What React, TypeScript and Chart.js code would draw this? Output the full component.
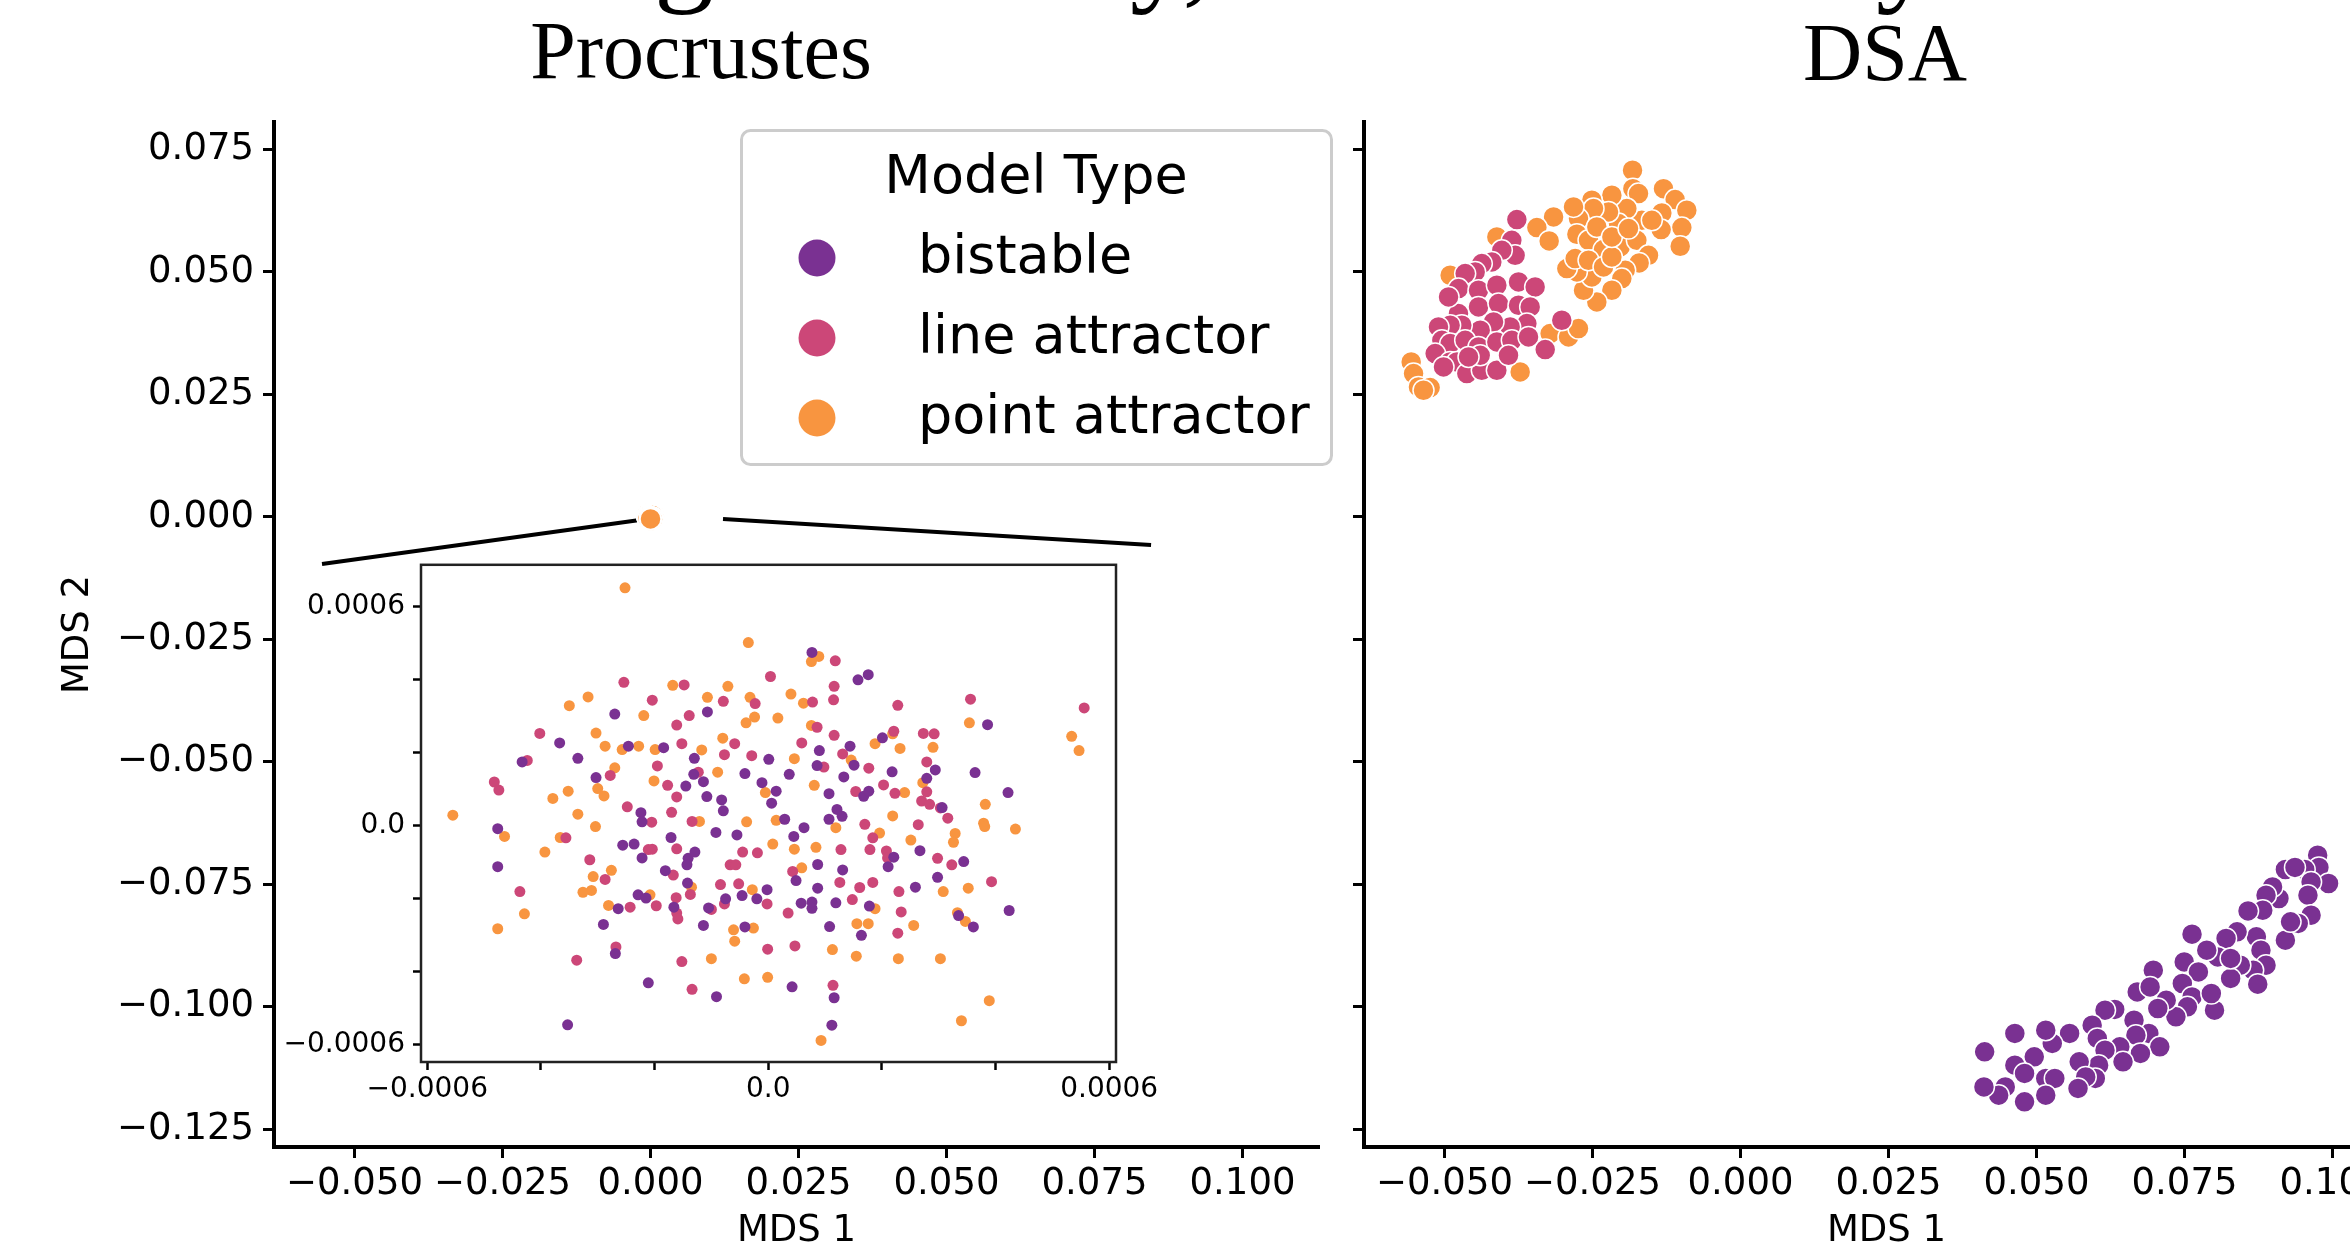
import React, { useEffect, useRef } from "react";
import { Chart, registerables } from "chart.js";

Chart.register(...registerables);

// ---------------- data ----------------
const MODEL_TYPES = ["bistable", "line attractor", "point attractor"];
const MODEL_COLORS = ["#7a3192", "#cc4778", "#f89540"];

// Procrustes MDS embedding (tiny spread, shown at ~0 in the main panel and in the zoom inset)
const PROC_BISTABLE: number[][] = [
  [-2.70e-4, 3.06e-4], [-1.07e-4, 3.12e-4], [-3.67e-4, 2.27e-4], [-3.35e-4, 1.85e-4], [-4.33e-4, 1.75e-4],
  [-2.46e-4, 2.18e-4], [-1.84e-4, 2.14e-4], [-1.30e-4, 1.85e-4], [-3.03e-4, 1.32e-4], [-1.45e-4, 1.09e-4],
  [-1.31e-4, 1.41e-4], [-1.14e-4, 1.21e-4], [-1.08e-4, 0.80e-4], [-0.82e-4, 0.71e-4], [-0.79e-4, 0.41e-4],
  [-0.41e-4, 1.43e-4], [-0.11e-4, 1.18e-4], [-2.24e-4, 0.36e-4], [-2.22e-4, 0.11e-4], [-4.76e-4, -0.08e-4],
  [-1.71e-4, -0.32e-4], [-0.92e-4, -0.18e-4], [-0.55e-4, -0.25e-4], [-2.56e-4, -0.53e-4], [-2.36e-4, -0.50e-4],
  [-2.22e-4, -0.88e-4], [-1.41e-4, -0.89e-4], [-1.29e-4, -0.72e-4], [-1.43e-4, -1.07e-4], [-4.76e-4, -1.12e-4],
  [-1.81e-4, -1.23e-4], [-1.42e-4, -1.57e-4], [-2.29e-4, -1.89e-4], [-2.15e-4, -1.98e-4], [-2.64e-4, -2.27e-4],
  [-1.66e-4, -2.23e-4], [-1.05e-4, -2.25e-4], [-0.75e-4, -2.00e-4], [-0.46e-4, -1.91e-4], [-0.20e-4, -2.00e-4],
  [-2.90e-4, -2.70e-4], [-1.14e-4, -2.73e-4], [-0.41e-4, -2.77e-4], [-2.69e-4, -3.50e-4], [-2.11e-4, -4.30e-4],
  [-0.91e-4, -4.68e-4], [-3.53e-4, -5.45e-4],
  [0.77e-4, 4.75e-4], [1.58e-4, 4.00e-4], [1.76e-4, 4.14e-4], [3.86e-4, 2.77e-4], [2.01e-4, 2.41e-4],
  [1.44e-4, 2.18e-4], [0.90e-4, 2.06e-4], [0.86e-4, 1.65e-4], [1.51e-4, 1.66e-4], [0.01e-4, 1.82e-4],
  [0.37e-4, 1.41e-4], [1.33e-4, 1.34e-4], [2.18e-4, 1.48e-4], [2.94e-4, 1.53e-4], [3.64e-4, 1.46e-4],
  [2.79e-4, 1.30e-4], [0.14e-4, 0.95e-4], [0.06e-4, 0.62e-4], [1.07e-4, 0.88e-4], [1.68e-4, 0.81e-4],
  [1.77e-4, 0.95e-4], [4.22e-4, 0.91e-4], [3.06e-4, 0.50e-4], [1.21e-4, 0.45e-4], [1.30e-4, 0.26e-4],
  [1.07e-4, 0.18e-4], [0.29e-4, 0.18e-4], [0.63e-4, -0.05e-4], [0.45e-4, -0.29e-4], [2.67e-4, -0.68e-4],
  [2.21e-4, -0.86e-4], [2.11e-4, -1.12e-4], [0.87e-4, -1.06e-4], [1.31e-4, -1.21e-4], [3.44e-4, -0.98e-4],
  [2.98e-4, -1.41e-4], [0.49e-4, -1.50e-4], [-0.02e-4, -1.75e-4], [0.87e-4, -1.71e-4], [2.59e-4, -1.68e-4],
  [0.58e-4, -2.12e-4], [0.77e-4, -2.09e-4], [0.77e-4, -2.26e-4], [1.19e-4, -2.11e-4], [1.78e-4, -2.20e-4],
  [4.24e-4, -2.32e-4], [3.35e-4, -2.46e-4], [3.61e-4, -2.77e-4], [1.08e-4, -2.76e-4], [1.64e-4, -3.00e-4],
  [0.42e-4, -4.41e-4], [1.16e-4, -4.71e-4], [1.12e-4, -5.46e-4],
];

const PROC_LINE: number[][] = [
  [-2.54e-4, 3.93e-4], [-1.48e-4, 3.86e-4], [-2.04e-4, 3.44e-4], [-0.23e-4, 3.35e-4], [-0.79e-4, 3.41e-4],
  [-1.39e-4, 3.02e-4], [-1.61e-4, 2.76e-4], [-4.02e-4, 2.53e-4], [-1.52e-4, 2.25e-4], [-0.59e-4, 2.25e-4],
  [-0.77e-4, 1.95e-4], [-0.29e-4, 1.92e-4], [-1.95e-4, 1.64e-4], [-2.78e-4, 1.38e-4], [-1.23e-4, 1.47e-4],
  [-4.24e-4, 1.79e-4], [-4.82e-4, 1.20e-4], [-4.74e-4, 0.98e-4], [-1.77e-4, 1.11e-4], [-1.61e-4, 0.79e-4],
  [-2.48e-4, 0.52e-4], [-1.70e-4, 0.37e-4], [-2.05e-4, 0.10e-4], [-1.34e-4, 0.12e-4], [-3.56e-4, -0.33e-4],
  [-2.11e-4, -0.65e-4], [-2.04e-4, -0.64e-4], [-1.61e-4, -0.63e-4], [-0.45e-4, -0.72e-4], [-0.19e-4, -0.74e-4],
  [-3.14e-4, -0.93e-4], [-2.87e-4, -1.47e-4], [-1.67e-4, -1.35e-4], [-0.67e-4, -1.07e-4], [-0.57e-4, -1.07e-4],
  [-0.84e-4, -1.61e-4], [-0.52e-4, -1.59e-4], [-1.37e-4, -1.88e-4], [-1.62e-4, -1.97e-4], [-2.43e-4, -2.23e-4],
  [-1.97e-4, -2.19e-4], [-1.61e-4, -2.39e-4], [-1.59e-4, -2.55e-4], [-1.00e-4, -2.29e-4], [-0.77e-4, -2.14e-4],
  [-4.37e-4, -1.80e-4], [-2.68e-4, -3.32e-4], [-3.37e-4, -3.68e-4], [-1.52e-4, -3.72e-4], [-1.34e-4, -4.48e-4],
  [0.04e-4, 4.09e-4], [1.18e-4, 4.52e-4], [1.16e-4, 3.82e-4], [1.15e-4, 3.45e-4], [0.78e-4, 3.39e-4],
  [2.28e-4, 3.30e-4], [0.86e-4, 2.70e-4], [1.16e-4, 2.48e-4], [0.59e-4, 2.27e-4], [1.31e-4, 1.97e-4],
  [0.98e-4, 1.61e-4], [1.77e-4, 1.58e-4], [2.21e-4, 2.59e-4], [2.73e-4, 2.53e-4], [2.92e-4, 2.52e-4],
  [2.79e-4, 1.75e-4], [2.03e-4, 1.12e-4], [1.54e-4, 0.94e-4], [2.23e-4, 0.89e-4], [2.79e-4, 0.93e-4],
  [2.70e-4, 0.68e-4], [2.84e-4, 0.59e-4], [3.03e-4, 0.49e-4], [3.16e-4, 0.21e-4], [3.56e-4, 3.47e-4],
  [5.56e-4, 3.23e-4], [1.70e-4, 0.04e-4], [1.84e-4, -0.33e-4], [2.64e-4, 0.03e-4], [1.28e-4, -0.65e-4],
  [1.79e-4, -0.65e-4], [2.08e-4, -0.69e-4], [2.10e-4, -0.88e-4], [2.98e-4, -0.89e-4], [3.23e-4, -1.07e-4],
  [0.43e-4, -1.25e-4], [1.26e-4, -1.55e-4], [1.61e-4, -1.69e-4], [1.84e-4, -1.55e-4], [3.93e-4, -1.53e-4],
  [2.30e-4, -1.80e-4], [1.48e-4, -2.02e-4], [-0.02e-4, -2.14e-4], [0.35e-4, -2.39e-4], [2.34e-4, -2.36e-4],
  [2.28e-4, -2.94e-4], [-0.01e-4, -3.38e-4], [0.47e-4, -3.29e-4], [1.14e-4, -4.37e-4],
];

const PROC_POINT: number[][] = [
  [-2.52e-4, 6.52e-4], [-0.35e-4, 5.02e-4], [-1.68e-4, 3.85e-4], [-3.50e-4, 3.29e-4], [-3.17e-4, 3.53e-4],
  [-2.19e-4, 3.02e-4], [-1.07e-4, 3.52e-4], [-0.71e-4, 3.82e-4], [-0.32e-4, 3.52e-4], [-0.39e-4, 2.82e-4],
  [-0.24e-4, 2.98e-4], [-3.03e-4, 2.54e-4], [-2.87e-4, 2.18e-4], [-2.57e-4, 2.09e-4], [-2.28e-4, 2.18e-4],
  [-1.99e-4, 2.09e-4], [-1.17e-4, 2.08e-4], [-0.80e-4, 2.40e-4], [-2.70e-4, 1.59e-4], [-2.01e-4, 1.23e-4],
  [-0.89e-4, 1.47e-4], [-3.79e-4, 0.75e-4], [-3.52e-4, 0.95e-4], [-3.00e-4, 1.02e-4], [-2.89e-4, 0.82e-4],
  [-5.55e-4, 0.29e-4], [-3.35e-4, 0.32e-4], [-3.04e-4, -0.02e-4], [-1.21e-4, 0.12e-4], [-0.38e-4, 0.11e-4],
  [-4.64e-4, -0.29e-4], [-3.66e-4, -0.32e-4], [-3.93e-4, -0.72e-4], [-2.76e-4, -1.22e-4], [-3.08e-4, -1.39e-4],
  [-3.26e-4, -1.82e-4], [-3.11e-4, -1.77e-4], [-2.81e-4, -2.18e-4], [-2.08e-4, -1.89e-4], [-1.35e-4, -1.68e-4],
  [-0.28e-4, -1.75e-4], [-0.26e-4, -2.80e-4], [-0.61e-4, -2.85e-4], [-0.59e-4, -3.16e-4], [-4.76e-4, -2.82e-4],
  [-4.29e-4, -2.41e-4], [-1.00e-4, -3.64e-4], [-0.42e-4, -4.19e-4],
  [0.89e-4, 4.64e-4], [0.76e-4, 4.50e-4], [0.40e-4, 3.61e-4], [0.62e-4, 3.36e-4], [0.17e-4, 2.95e-4],
  [0.76e-4, 2.75e-4], [0.46e-4, 1.84e-4], [1.46e-4, 1.80e-4], [1.88e-4, 2.25e-4], [2.19e-4, 2.52e-4],
  [2.32e-4, 2.12e-4], [2.90e-4, 2.15e-4], [0.81e-4, 1.11e-4], [-0.05e-4, 0.91e-4], [2.40e-4, 0.91e-4],
  [2.72e-4, 1.18e-4], [3.82e-4, 0.59e-4], [2.19e-4, 0.27e-4], [0.14e-4, 0.15e-4], [1.19e-4, -0.05e-4],
  [1.96e-4, -0.20e-4], [2.51e-4, -0.39e-4], [3.29e-4, -0.21e-4], [3.26e-4, -0.45e-4], [3.79e-4, 0.07e-4],
  [3.81e-4, -0.02e-4], [4.35e-4, -0.09e-4], [5.34e-4, 2.45e-4], [5.47e-4, 2.06e-4], [3.54e-4, 2.82e-4],
  [0.08e-4, -0.50e-4], [0.46e-4, -0.64e-4], [0.84e-4, -0.59e-4], [0.59e-4, -1.15e-4], [3.08e-4, -1.80e-4],
  [3.52e-4, -1.71e-4], [1.88e-4, -2.27e-4], [1.56e-4, -2.68e-4], [1.76e-4, -2.68e-4], [2.56e-4, -2.73e-4],
  [3.33e-4, -2.38e-4], [3.47e-4, -2.62e-4], [1.13e-4, -3.39e-4], [1.55e-4, -3.57e-4], [2.29e-4, -3.64e-4],
  [3.03e-4, -3.64e-4], [3.89e-4, -4.79e-4], [3.40e-4, -5.34e-4], [0.93e-4, -5.88e-4], [-0.01e-4, -4.15e-4],
];

// DSA MDS embedding
const DSA_BISTABLE: number[][] = [
  [0.09749, -0.06904], [0.0977, -0.07155], [0.09933, -0.07482], [0.0953, -0.07196], [0.09204, -0.07196],
  [0.09366, -0.07155], [0.09638, -0.07449], [0.09585, -0.0772], [0.09638, -0.08129], [0.09421, -0.08298],
  [0.09204, -0.08639], [0.09291, -0.08265], [0.09095, -0.07788], [0.08987, -0.07551], [0.08877, -0.0772],
  [0.08822, -0.08027], [0.08573, -0.08041], [0.08714, -0.08571], [0.08791, -0.08843], [0.08877, -0.09149],
  [0.0866, -0.09251], [0.08737, -0.09537], [0.08443, -0.09149], [0.08279, -0.0942], [0.08388, -0.08469],
  [0.08202, -0.08604], [0.08061, -0.0898], [0.07876, -0.08843], [0.07627, -0.08516], [0.07495, -0.09082],
  [0.07735, -0.09286], [0.07463, -0.09523], [0.07627, -0.09796], [0.07549, -0.1], [0.07355, -0.10204],
  [0.07191, -0.09863], [0.06973, -0.09251], [0.06701, -0.09694], [0.06919, -0.09592], [0.07049, -0.10033],
  [0.06897, -0.10543], [0.07083, -0.10816], [0.06647, -0.10271], [0.06679, -0.10578], [0.06755, -0.10951],
  [0.06407, -0.10816], [0.06461, -0.11122], [0.06321, -0.10053], [0.06157, -0.10067], [0.0594, -0.10373],
  [0.06027, -0.10645], [0.06157, -0.10884], [0.06049, -0.1119], [0.05993, -0.11461], [0.05721, -0.11122],
  [0.05831, -0.11429], [0.05701, -0.11665], [0.05559, -0.10543], [0.05266, -0.10747], [0.05156, -0.10476],
  [0.04962, -0.1102], [0.04634, -0.10543], [0.04634, -0.1119], [0.04798, -0.11359], [0.05156, -0.11461],
  [0.05309, -0.11461], [0.05156, -0.11802], [0.04798, -0.11939], [0.04472, -0.11633], [0.04361, -0.11802],
  [0.04112, -0.11633], [0.04124, -0.10918], [0.08007, -0.10067], [0.07953, -0.09727], [0.08279, -0.09012],
];

const DSA_LINE: number[][] = [
  [-0.03778, 0.06068], [-0.03863, 0.05646], [-0.03807, 0.0534], [-0.04032, 0.05442], [-0.04201, 0.05204],
  [-0.0437, 0.0517], [-0.04482, 0.05], [-0.04651, 0.04966], [-0.04764, 0.0466], [-0.04426, 0.04626],
  [-0.04116, 0.04728], [-0.0375, 0.04796], [-0.03469, 0.04694], [-0.04426, 0.04286], [-0.04764, 0.0415],
  [-0.04932, 0.0449], [-0.04088, 0.04354], [-0.0375, 0.0432], [-0.03553, 0.04286], [-0.03609, 0.03946],
  [-0.03891, 0.03878], [-0.04172, 0.0398], [-0.04397, 0.0381], [-0.04708, 0.03912], [-0.04905, 0.03912],
  [-0.05102, 0.03878], [-0.05045, 0.03605], [-0.04905, 0.03537], [-0.04651, 0.03605], [-0.04426, 0.03469],
  [-0.04116, 0.03571], [-0.03863, 0.03605], [-0.03581, 0.03673], [-0.03299, 0.03415], [-0.03019, 0.04014],
  [-0.05158, 0.03333], [-0.04905, 0.03163], [-0.04791, 0.03163], [-0.04623, 0.02925], [-0.0437, 0.02993],
  [-0.04116, 0.02993], [-0.04397, 0.03299], [-0.03919, 0.03299], [-0.04594, 0.03265], [-0.05017, 0.03061],
];

const DSA_POINT: number[][] = [
  [-0.01824, 0.07075], [-0.01818, 0.067], [-0.01301, 0.067], [-0.01104, 0.06476], [-0.00907, 0.06259],
  [-0.00991, 0.05905], [-0.01019, 0.05524], [-0.01329, 0.06204], [-0.01341, 0.05864], [-0.01723, 0.06599],
  [-0.01667, 0.06054], [-0.0192, 0.06293], [-0.02061, 0.05986], [-0.02173, 0.06565], [-0.0223, 0.06224],
  [-0.02511, 0.06463], [-0.02483, 0.06293], [-0.02737, 0.06088], [-0.02821, 0.06327], [-0.03158, 0.06122],
  [-0.0344, 0.05905], [-0.03232, 0.05633], [-0.02764, 0.05769], [-0.02567, 0.05646], [-0.02314, 0.05456],
  [-0.02033, 0.0551], [-0.01751, 0.05646], [-0.01554, 0.0534], [-0.01712, 0.05184], [-0.01948, 0.05034],
  [-0.02005, 0.04864], [-0.02173, 0.04626], [-0.02427, 0.04388], [-0.02652, 0.04626], [-0.02511, 0.04898],
  [-0.02764, 0.05], [-0.02934, 0.05068], [-0.02793, 0.05272], [-0.02567, 0.05238], [-0.02314, 0.05102],
  [-0.02173, 0.05306], [-0.02427, 0.05918], [-0.02173, 0.05714], [-0.01892, 0.05884], [-0.01498, 0.06054],
  [-0.04116, 0.05714], [-0.04905, 0.04932], [-0.03216, 0.03741], [-0.02905, 0.03673], [-0.02737, 0.03844],
  [-0.03722, 0.02959], [-0.05563, 0.03163], [-0.05523, 0.02925], [-0.0544, 0.02653], [-0.05243, 0.02639],
  [-0.05355, 0.02585],
];

// axes
const MAIN_X_RANGE = [-0.0636, 0.11292];
const MAIN_Y_RANGE = [-0.1286, 0.0806];
const MAIN_X_TICKS = [-0.05, -0.025, 0, 0.025, 0.05, 0.075, 0.1];
const MAIN_X_LABELS = ["−0.050", "−0.025", "0.000", "0.025", "0.050", "0.075", "0.100"];
const MAIN_Y_TICKS = [-0.125, -0.1, -0.075, -0.05, -0.025, 0, 0.025, 0.05, 0.075];
const MAIN_Y_LABELS = ["−0.125", "−0.100", "−0.075", "−0.050", "−0.025", "0.000", "0.025", "0.050", "0.075"];
const EMPTY_Y_LABELS = MAIN_Y_TICKS.map(() => "");

const INSET_X_RANGE = [-0.000611, 0.000612];
const INSET_Y_RANGE = [-0.000647, 0.000715];
const INSET_TICKS = [-0.0006, -0.0004, -0.0002, 0, 0.0002, 0.0004, 0.0006];
const INSET_LABELS = ["−0.0006", "", "", "0.0", "", "", "0.0006"];

// zoom-indicator lines in the Procrustes panel (data units: x1, y1, x2, y2)
const CONNECTORS = [
  [-0.05549, -0.00959, -0.00059, -0.00041],
  [0.01225, -0.00041, 0.08455, -0.00571],
];

// ---------------- helpers ----------------
const SANS = "DejaVu Sans";

function axis(o: {
  isX: boolean; range: number[]; ticks: number[]; labels: string[]; size: number;
  fontSize: number; tickLength: number; tickWidth: number; padding: number; border: number;
  title?: { text: string; top: number; bottom: number };
}) {
  return {
    type: "linear",
    position: o.isX ? "bottom" : "left",
    bounds: "data",
    min: o.range[0],
    max: o.range[1],
    afterBuildTicks: (s: any) => {
      s.ticks = o.ticks.map((v) => ({ value: v }));
    },
    afterFit: (s: any) => {
      if (o.isX) s.height = o.size;
      else s.width = o.size;
    },
    ticks: {
      autoSkip: false,
      maxRotation: 0,
      minRotation: 0,
      padding: o.padding,
      color: "#000",
      font: { family: SANS, size: o.fontSize, lineHeight: 1.2 },
      callback: (_v: any, i: number) => o.labels[i],
    },
    grid: {
      display: true,
      drawOnChartArea: false,
      drawTicks: true,
      tickLength: o.tickLength,
      tickWidth: o.tickWidth,
      tickColor: "#000",
    },
    border: { display: o.border > 0, width: o.border, color: "#000" },
    title: o.title
      ? {
          display: true,
          text: o.title.text,
          color: "#000",
          font: { family: SANS, size: 37, lineHeight: 1.2 },
          padding: { top: o.title.top, bottom: o.title.bottom },
        }
      : { display: false },
  };
}

const toXY = (arr: number[][]) => arr.map(([x, y]) => ({ x, y }));

// Chart.js draws dataset index 0 last (on top)
function datasets(series: number[][][], order: number[], radius: number, border: number) {
  return order.map((i) => ({
    label: MODEL_TYPES[i],
    data: toXY(series[i]),
    backgroundColor: MODEL_COLORS[i],
    borderColor: "#ffffff",
    borderWidth: border,
    pointRadius: radius,
    pointHoverRadius: radius,
  }));
}

const connectorPlugin = {
  id: "connectors",
  beforeDatasetsDraw(chart: any) {
    const { ctx, scales } = chart;
    ctx.save();
    ctx.strokeStyle = "#000";
    ctx.lineWidth = 4;
    for (const [x1, y1, x2, y2] of CONNECTORS) {
      ctx.beginPath();
      ctx.moveTo(scales.x.getPixelForValue(x1), scales.y.getPixelForValue(y1));
      ctx.lineTo(scales.x.getPixelForValue(x2), scales.y.getPixelForValue(y2));
      ctx.stroke();
    }
    ctx.restore();
  },
};

const insetFramePlugin = {
  id: "insetFrame",
  beforeDraw(chart: any) {
    const { ctx, chartArea: a } = chart;
    ctx.save();
    ctx.fillStyle = "#ffffff";
    ctx.fillRect(a.left, a.top, a.right - a.left, a.bottom - a.top);
    ctx.restore();
  },
  afterDraw(chart: any) {
    const { ctx, chartArea: a } = chart;
    ctx.save();
    ctx.strokeStyle = "#222";
    ctx.lineWidth = 2.5;
    ctx.strokeRect(a.left, a.top, a.right - a.left, a.bottom - a.top);
    ctx.restore();
  },
};

const baseOptions = {
  responsive: false,
  animation: false,
  devicePixelRatio: 1,
  events: [],
  plugins: { legend: { display: false }, tooltip: { enabled: false } },
};

export default function App() {
  const leftRef = useRef<HTMLCanvasElement>(null);
  const rightRef = useRef<HTMLCanvasElement>(null);
  const insetRef = useRef<HTMLCanvasElement>(null);

  useEffect(() => {
    const proc = [PROC_BISTABLE, PROC_LINE, PROC_POINT];
    const dsa = [DSA_BISTABLE, DSA_LINE, DSA_POINT];

    const left = new Chart(leftRef.current as HTMLCanvasElement, {
      type: "scatter",
      data: { datasets: datasets(proc, [2, 1, 0], 10.5, 1.5) as any },
      options: {
        ...baseOptions,
        layout: { padding: { left: 0, top: 122, right: 21, bottom: 0 } },
        scales: {
          x: axis({ isX: true, range: MAIN_X_RANGE, ticks: MAIN_X_TICKS, labels: MAIN_X_LABELS, size: 110,
            fontSize: 37, tickLength: 11, tickWidth: 3, padding: 4, border: 4,
            title: { text: "MDS 1", top: 0, bottom: 3 } }),
          y: axis({ isX: false, range: MAIN_Y_RANGE, ticks: MAIN_Y_TICKS, labels: MAIN_Y_LABELS, size: 274,
            fontSize: 37, tickLength: 11, tickWidth: 3, padding: 9, border: 4,
            title: { text: "MDS 2", top: 56, bottom: 0 } }),
        } as any,
      } as any,
      plugins: [connectorPlugin],
    });

    const right = new Chart(rightRef.current as HTMLCanvasElement, {
      type: "scatter",
      data: { datasets: datasets(dsa, [0, 1, 2], 10.5, 1.5) as any },
      options: {
        ...baseOptions,
        layout: { padding: { left: 0, top: 122, right: 21, bottom: 0 } },
        scales: {
          x: axis({ isX: true, range: MAIN_X_RANGE, ticks: MAIN_X_TICKS, labels: MAIN_X_LABELS, size: 110,
            fontSize: 37, tickLength: 11, tickWidth: 3, padding: 4, border: 4,
            title: { text: "MDS 1", top: 0, bottom: 3 } }),
          y: axis({ isX: false, range: MAIN_Y_RANGE, ticks: MAIN_Y_TICKS, labels: EMPTY_Y_LABELS, size: 24,
            fontSize: 37, tickLength: 11, tickWidth: 3, padding: 0, border: 4 }),
        } as any,
      } as any,
    });

    const inset = new Chart(insetRef.current as HTMLCanvasElement, {
      type: "scatter",
      data: { datasets: datasets(proc, [0, 1, 2], 5.5, 0) as any },
      options: {
        ...baseOptions,
        layout: { padding: { left: 0, top: 23, right: 84, bottom: 0 } },
        scales: {
          x: axis({ isX: true, range: INSET_X_RANGE, ticks: INSET_TICKS, labels: INSET_LABELS, size: 58,
            fontSize: 28, tickLength: 8, tickWidth: 2.5, padding: 3, border: 0 }),
          y: axis({ isX: false, range: INSET_Y_RANGE, ticks: INSET_TICKS, labels: INSET_LABELS, size: 171,
            fontSize: 28, tickLength: 8, tickWidth: 2.5, padding: 8, border: 0 }),
        } as any,
      } as any,
      plugins: [insetFramePlugin],
    });

    return () => {
      left.destroy();
      right.destroy();
      inset.destroy();
    };
  }, []);

  const legendRows = [258, 338, 418];

  return (
    <div style={{ position: "fixed", left: 0, top: 0, width: 2350, height: 1257, overflow: "hidden", background: "#fff" }}>
      <canvas ref={leftRef} width={1340} height={1257} style={{ position: "absolute", left: 0, top: 0 }} />
      <canvas ref={rightRef} width={1090} height={1257} style={{ position: "absolute", left: 1340, top: 0 }} />
      <canvas ref={insetRef} width={950} height={580} style={{ position: "absolute", left: 250, top: 540 }} />
      <svg width={2350} height={1257} style={{ position: "absolute", left: 0, top: 0 }}>
        <g fontFamily="Liberation Serif" fontSize={120} fill="#000">
          <text x={654} y={-11}>g</text>
          <text x={1130} y={-11}>y,</text>
          <text x={1876} y={-11}>y</text>
        </g>
        <g fontFamily="Liberation Serif" fontSize={82} fill="#000" textAnchor="middle">
          <text x={701} y={78}>Procrustes</text>
          <text x={1885} y={80}>DSA</text>
        </g>
        <rect x={741.5} y={130.5} width={590} height={334} rx={9} ry={9}
          fill="#ffffff" fillOpacity={0.8} stroke="#cccccc" strokeWidth={3} />
        <g fontFamily={SANS} fontSize={54} fill="#000">
          <text x={1036} y={193} textAnchor="middle">Model Type</text>
          {MODEL_TYPES.map((name, i) => (
            <g key={name}>
              <circle cx={817} cy={legendRows[i]} r={18.5} fill={MODEL_COLORS[i]} />
              <text x={918} y={legendRows[i] + 15}>{name}</text>
            </g>
          ))}
        </g>
      </svg>
    </div>
  );
}
